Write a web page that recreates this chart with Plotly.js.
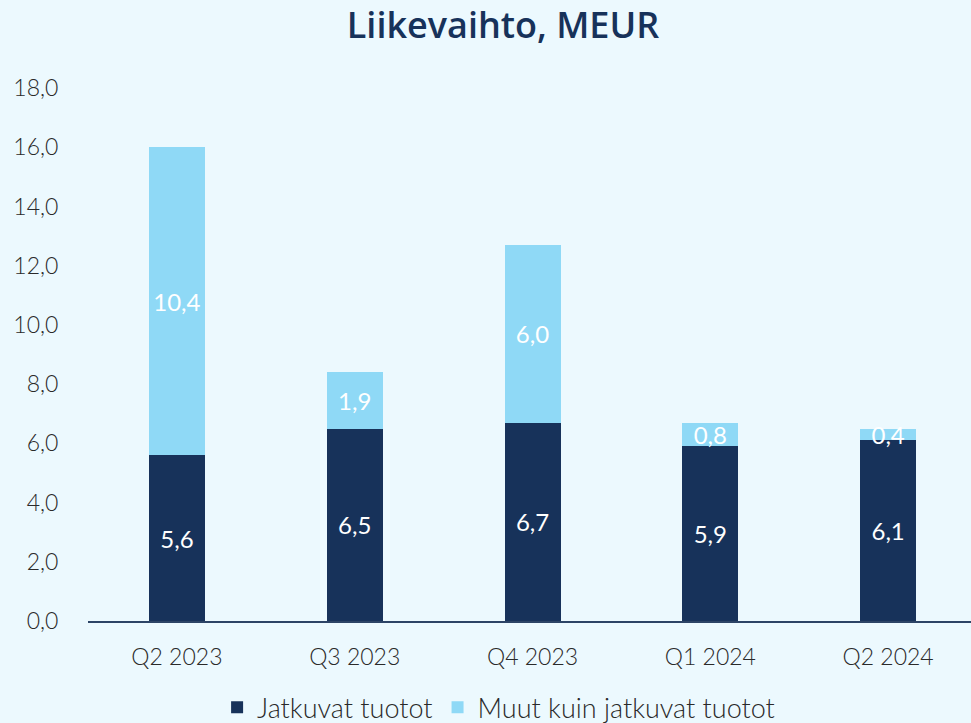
<!DOCTYPE html>
<html><head><meta charset="utf-8">
<script src="https://cdn.plot.ly/plotly-3.0.1.min.js"></script>
<style>html,body{margin:0;padding:0;background:#ecf9fe;}</style>
</head><body>
<div id="chart" style="width:971px;height:723px;"></div>
<script>
var categories = ["Q2 2023", "Q3 2023", "Q4 2023", "Q1 2024", "Q2 2024"];
var jatkuvat = [5.6, 6.5, 6.7, 5.9, 6.1];
var muut = [10.4, 1.9, 6.0, 0.8, 0.4];
var seriesNames = ["Jatkuvat tuotot", "Muut kuin jatkuvat tuotot"];
var yTicks = [0, 2, 4, 6, 8, 10, 12, 14, 16, 18];

var dark = "#17325a", light = "#8fd9f6";
var labelFont = {color: "#ffffff", size: 24, family: "Lato, sans-serif"};
var traces = [
  {type: "bar", x: categories, y: jatkuvat, name: seriesNames[0],
   marker: {color: dark},
   texttemplate: "%{y:.1f}", textposition: "inside", insidetextanchor: "middle",
   constraintext: "none", textfont: labelFont},
  {type: "bar", x: categories, y: muut, name: seriesNames[1],
   marker: {color: light},
   texttemplate: "%{y:.1f}", textposition: "inside", insidetextanchor: "middle",
   constraintext: "none", textfont: labelFont}
];
var tickFont = {size: 23, color: "#2a2a2a", family: "Lato, sans-serif", weight: 300};
var layout = {
  width: 971, height: 723,
  paper_bgcolor: "#ecf9fe", plot_bgcolor: "#ecf9fe",
  barmode: "stack", bargap: 0.685,
  separators: ",.",
  margin: {l: 88, r: 0, t: 88, b: 102, autoexpand: false},
  title: {text: "Liikevaihto, MEUR", x: 0.518, xanchor: "center", y: 0.965, yanchor: "middle",
          font: {family: "Open Sans, sans-serif", size: 36, color: dark, weight: 600}},
  font: {family: "Lato, sans-serif", color: "#2a2a2a"},
  xaxis: {range: [-0.5, 4.466], showline: true, linecolor: "#2c4466", linewidth: 2,
          showgrid: false, zeroline: false, tickfont: tickFont,
          ticks: "outside", ticklen: 14, tickcolor: "rgba(0,0,0,0)"},
  yaxis: {range: [0, 18], tickvals: yTicks, tickformat: ".1f", showgrid: false, zeroline: false,
          showline: false, tickfont: tickFont,
          ticks: "outside", ticklen: 24, tickcolor: "rgba(0,0,0,0)"},
  legend: {orientation: "h", x: 0.465, xanchor: "center", yref: "container", y: 0.021, yanchor: "middle",
           font: {size: 27, color: "#2a2a2a", family: "Lato, sans-serif", weight: 300},
           traceorder: "normal", itemwidth: 30},
  showlegend: true
};
Plotly.newPlot("chart", traces, layout, {staticPlot: true});
</script>
</body></html>
